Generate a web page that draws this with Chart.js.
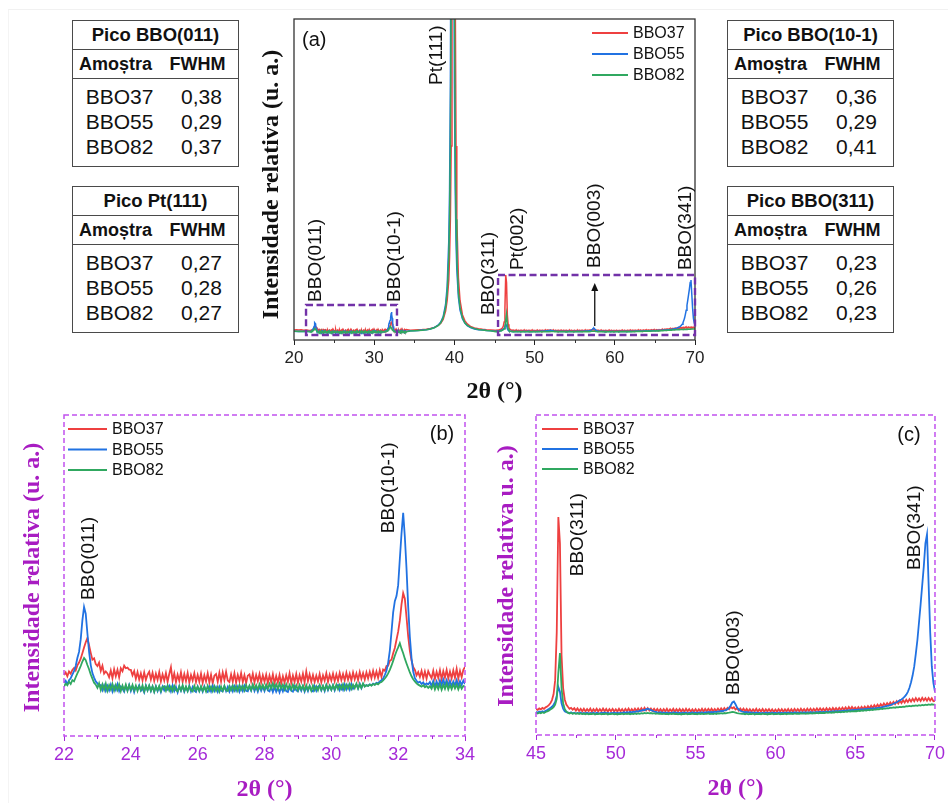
<!DOCTYPE html>
<html>
<head>
<meta charset="utf-8">
<script src="https://cdn.jsdelivr.net/npm/chart.js@4.4.0/dist/chart.umd.min.js"></script>
<style>
    html, body { margin: 0; padding: 0; background: #fff; }
    body { width: 948px; height: 803px; position: relative; overflow: hidden;
           font-family: "Liberation Sans", Arial, sans-serif; color: #111; }
    canvas { position: absolute; }
    .sheet { position: absolute; left: 8px; top: 9px; right: 0; bottom: 0;
             border-top: 1px solid #f1f1f1; border-left: 1px solid #f4f4f4; }
    .fwhm { position: absolute; width: 167px; height: 147px; box-sizing: border-box;
            border: 1.5px solid #4a4a4a; }
    .fwhm .hd { height: 27.5px; line-height: 28px; border-bottom: 1.5px solid #4a4a4a;
                text-align: center; font-weight: bold; font-size: 18.5px; }
    .fwhm .sub { height: 28px; line-height: 29px; border-bottom: 1.5px solid #4a4a4a;
                 font-weight: bold; font-size: 18px; display: flex; }
    .fwhm .sub span:first-child { width: 85px; text-align: center; }
    .fwhm .sub span:last-child { width: 79px; text-align: center; }
    .fwhm .bd { padding-top: 5px; }
    .fwhm .row { height: 25px; line-height: 25px; font-size: 21px; display: flex; }
    .fwhm .row span:first-child { width: 93px; text-align: center; }
    .fwhm .row span:last-child { width: 71px; text-align: center; }
</style>
</head>
<body>
<div class="sheet"></div>
<canvas id="chartA" width="460" height="410" style="left:250px;top:0px"></canvas>
<canvas id="chartB" width="480" height="403" style="left:0px;top:400px"></canvas>
<canvas id="chartC" width="468" height="403" style="left:480px;top:400px"></canvas>

<script>
// ---------------------------------------------------------
// SAMPLES + FWHM TABLES
// ---------------------------------------------------------
const samples = ['BBO37', 'BBO55', 'BBO82'];
const fwhmBBO011 = [0.38, 0.29, 0.37];
const fwhmPt111 = [0.27, 0.28, 0.27];
const fwhmBBO101 = [0.36, 0.29, 0.41];
const fwhmBBO311 = [0.23, 0.26, 0.23];

// ---------------------------------------------------------
// DIFFRACTOGRAMS (relative intensity)
// ---------------------------------------------------------
// 20 - 22 deg, coarse
const theta0 = [20.0, 20.3, 20.6, 20.9, 21.2, 21.5, 21.8];
const bbo37Low = [20.5, 21.2, 20.1, 20.8, 19.7, 20.4, 19.5];
const bbo55Low = [17.0, 16.2, 17.1, 16.5, 16.9, 16.3, 16.8];
const bbo82Low = [16.6, 17.2, 16.4, 17.0, 16.2, 16.8, 16.0];

// 22 - 34 deg, step 0.05
const bbo37B = [
    19.0,19.8,18.6,20.1,19.4,20.6,21.2,20.4,22.0,22.9,24.1,25.8,27.6,29.2,30.5,28.3,25.9,23.8,24.2,22.4,
    21.8,22.9,20.3,21.9,19.4,20.1,19.5,18.3,20.4,18.0,20.8,18.6,20.6,18.3,21.1,20.2,21.9,21.1,21.3,20.7,
    20.6,18.9,20.2,17.8,19.9,17.6,19.5,17.3,19.8,17.5,19.1,20.0,17.6,19.7,17.2,19.4,17.5,19.9,17.0,19.2,
    17.3,19.6,16.9,19.3,21.4,17.2,19.5,16.8,19.1,17.2,19.8,16.9,19.3,17.1,19.6,16.7,19.0,17.3,19.5,16.8,
    19.0,16.9,19.4,16.6,18.9,17.0,19.5,16.7,19.1,16.4,18.8,19.3,16.9,19.7,17.0,19.8,17.4,20.0,17.3,16.8,
    19.2,16.9,19.5,16.6,19.0,17.1,19.6,16.8,18.9,16.5,18.8,19.2,17.0,19.4,16.7,19.0,17.1,19.3,16.6,18.9,
    16.9,19.1,16.5,18.8,16.8,19.2,16.4,18.7,16.7,19.0,16.3,18.6,16.6,18.9,16.9,19.5,16.5,18.8,16.8,19.3,
    16.6,18.9,17.0,19.4,16.7,20.1,17.1,19.2,16.9,19.0,16.8,18.8,17.0,19.3,16.7,18.9,17.2,19.5,16.9,19.1,
    17.3,19.4,17.1,19.2,17.2,19.6,17.4,19.3,17.3,19.7,17.5,19.4,17.3,19.8,17.7,19.5,17.4,19.9,17.8,19.6,
    17.6,19.8,17.9,20.0,18.0,20.3,18.2,20.1,18.1,20.5,18.4,20.7,20.3,21.8,21.9,23.4,23.8,25.8,27.4,30.0,
    32.5,36.0,41.0,44.5,42.8,37.0,31.0,26.5,23.5,21.5,20.6,18.9,19.9,18.4,20.3,18.0,20.1,17.9,20.2,19.0,
    18.0,20.3,17.8,20.0,18.1,20.5,17.7,20.2,18.2,20.6,17.9,20.1,18.0,20.4,18.1,20.9,17.9,20.3,18.3,20.6,
    21.5
];
const bbo55B = [
    16.5,17.2,16.1,17.4,18.0,19.1,20.2,21.8,24.3,26.2,30.1,36.0,40.2,38.1,32.0,26.3,22.1,19.6,18.2,17.0,
    16.4,15.6,15.9,14.3,15.8,14.1,15.6,14.2,16.0,13.9,15.5,14.3,16.1,14.0,15.4,14.7,13.8,15.6,14.2,15.9,
    14.0,15.5,13.7,15.4,14.6,15.8,14.1,14.8,13.6,15.7,14.2,15.6,14.0,15.4,13.8,15.5,14.0,15.3,13.7,15.4,
    14.2,15.3,14.5,15.6,13.9,15.7,14.0,15.3,13.6,15.4,14.1,15.5,13.8,15.2,14.0,15.6,13.9,15.3,14.1,13.7,
    15.4,14.0,15.2,13.8,15.5,14.1,13.7,15.3,13.9,15.6,14.0,15.2,13.8,15.4,14.1,13.9,15.5,14.0,15.3,13.8,
    15.2,13.9,15.5,14.1,15.4,13.8,15.3,14.0,15.6,14.1,13.9,15.4,14.2,15.7,14.0,15.3,13.8,15.5,14.1,15.4,
    14.0,15.6,14.2,13.9,15.4,13.7,15.3,13.8,15.1,13.6,15.2,13.9,15.4,14.0,13.7,15.3,14.1,13.8,15.4,14.2,
    13.9,15.4,14.1,15.5,13.8,15.3,14.0,15.6,14.2,13.9,15.5,14.1,15.4,15.7,14.2,15.5,14.0,15.8,14.3,15.6,
    14.4,15.8,14.2,15.6,15.9,14.3,15.7,14.4,16.0,14.5,15.8,14.4,16.1,14.7,15.5,16.0,14.8,16.3,14.9,16.2,
    15.5,15.9,15.6,16.1,15.8,16.3,16.0,16.6,16.4,17.0,17.4,17.9,19.0,20.3,22.8,26.6,32.4,38.5,42.0,43.6,
    47.0,55.2,63.1,69.5,62.0,52.1,40.3,30.8,24.2,20.1,18.0,17.2,16.6,16.9,16.2,16.7,15.9,16.4,16.1,16.8,
    15.6,17.2,15.3,17.0,15.5,17.3,15.8,17.6,15.9,17.4,15.7,17.2,15.5,17.0,15.8,17.4,15.6,17.1,15.9,17.3,
    16.2
];
const bbo82B = [
    15.4,16.3,15.8,16.9,16.2,17.4,17.0,18.3,19.5,20.6,21.8,23.2,24.3,23.6,22.1,20.8,19.2,17.9,16.6,16.0,
    15.0,16.4,14.3,16.1,14.4,16.3,14.1,15.8,14.5,16.2,14.2,15.9,14.4,16.1,14.0,15.7,14.3,16.0,14.1,15.8,
    14.4,15.9,14.2,15.7,14.0,15.5,14.3,15.8,13.9,15.6,14.2,15.7,14.1,15.5,13.8,15.4,14.2,15.6,14.0,15.3,
    15.5,14.1,15.7,14.2,15.4,14.0,15.6,14.3,13.9,15.5,14.2,15.8,14.1,15.4,14.0,15.5,14.3,13.9,15.6,14.2,
    15.4,14.0,15.5,14.1,15.3,13.9,15.6,14.2,15.4,14.0,15.5,14.1,15.3,13.8,15.4,14.1,15.6,14.2,14.0,15.5,
    14.3,15.7,14.2,15.5,14.1,15.8,14.4,15.6,14.2,15.9,14.5,15.7,14.3,16.0,14.6,15.8,14.4,16.1,14.7,15.9,
    14.5,16.0,14.7,16.2,14.8,16.4,14.9,16.1,14.6,16.3,14.8,16.0,14.5,16.1,14.7,15.9,14.4,16.0,14.6,15.8,
    14.3,15.9,14.5,15.7,14.2,15.8,14.4,15.6,14.1,15.7,14.3,15.5,14.2,15.8,14.4,15.6,14.3,15.9,14.5,15.7,
    14.4,15.8,14.5,16.0,14.6,15.9,14.7,16.1,14.5,16.0,14.8,16.2,14.7,16.0,14.9,16.3,14.8,16.1,15.0,16.4,
    15.4,15.8,15.6,16.0,15.7,16.2,15.9,16.4,16.1,16.6,16.8,17.3,17.9,18.6,19.5,20.6,21.9,23.4,25.0,26.4,
    27.6,28.9,27.2,25.8,24.1,22.6,21.2,19.8,18.6,17.7,17.0,16.4,16.0,15.7,15.4,15.8,15.2,15.6,15.0,15.5,
    14.7,16.2,14.5,15.9,14.6,16.1,14.4,16.0,14.7,16.3,14.5,15.9,14.6,16.1,14.8,16.0,14.5,15.9,14.7,15.6,
    15.3
];

// Pt(111) region, 34.5 - 44.5 deg
const thetaPt = [34.5, 35, 35.5, 36, 36.5, 37, 37.5, 38, 38.3, 38.6, 38.9, 39.1, 39.3, 39.4, 39.5, 39.6,
    39.7, 39.75, 39.8, 39.85, 39.9, 40, 40.1, 40.2, 40.3, 40.5, 40.7, 41, 41.3, 41.6, 42, 42.5, 43, 43.5, 44, 44.5];
const bbo37Pt = [19.7, 20.2, 20.8, 21.6, 22.7, 24.5, 27.5, 33, 39, 49, 72, 101, 157, 222, 325, 523,
    958, 1363, 1958, 2658, 3018, 1958, 958, 523, 325, 163, 101, 62, 46, 37, 30, 26, 23.6, 22.2, 21.2, 20.5];
const bbo55Pt = [18, 18.4, 19, 20, 21, 23, 27, 34, 42, 57, 90, 140, 264, 405, 693, 1361,
    2656, 3016, 2656, 1956, 1361, 693, 405, 264, 186, 110, 75, 51, 39, 32, 27, 23, 21, 20, 19, 18.4];
const bbo82Pt = [17.8, 18.4, 19, 19.8, 21, 23, 26.5, 33, 40, 54, 82, 123, 220, 323, 521, 956,
    1956, 2656, 3016, 2656, 1956, 956, 521, 323, 220, 123, 82, 54, 40, 33, 28, 24, 21.5, 20, 19, 18.4];

// 45 - 70 deg, step 0.1
const bbo37C = [
    19.5,18.8,19.9,19.2,20.3,19.6,20.8,21.4,22.6,24.0,
    26.5,31.0,42.0,80.0,170.6,150.0,62.0,36.0,27.0,23.0,
    21.2,19.6,20.4,18.9,20.1,18.2,19.9,17.9,19.6,17.7,
    19.7,17.6,19.5,17.8,19.8,17.4,19.4,17.7,19.7,17.5,
    19.4,17.6,19.8,17.7,19.5,17.3,19.4,17.7,19.6,17.5,
    19.3,17.5,19.7,17.6,19.4,17.4,19.6,17.8,19.8,17.5,
    19.4,17.7,19.7,17.9,19.9,18.0,20.1,18.2,20.4,18.4,
    20.2,18.3,19.9,18.0,19.6,17.7,19.5,17.6,19.4,17.5,
    19.4,17.6,19.7,17.4,19.3,17.7,19.6,17.3,19.4,17.6,
    19.5,17.5,19.3,17.4,19.6,17.6,19.4,17.3,19.2,17.5,
    19.4,17.4,19.3,17.6,19.7,17.5,19.5,17.7,19.6,17.8,
    19.7,17.7,19.5,17.9,19.8,18.0,20.0,18.2,20.2,18.5,
    20.4,19.3,21.1,20.0,20.9,19.1,20.0,18.3,19.8,18.0,
    19.7,17.7,19.5,17.5,19.4,17.4,19.3,17.6,19.6,17.4,
    19.2,17.5,19.5,17.3,19.3,17.6,19.4,17.4,19.2,17.2,
    19.1,17.4,19.4,17.5,19.3,17.3,19.2,17.6,19.5,17.4,
    19.3,17.5,19.6,17.7,19.4,17.6,19.7,17.8,19.5,17.7,
    19.7,17.9,19.8,17.8,19.6,18.0,19.9,18.1,20.0,18.2,
    19.8,18.0,20.1,18.3,20.0,18.2,20.3,18.4,20.2,18.5,
    20.4,18.6,20.6,18.8,20.7,18.9,21.0,19.1,21.1,19.3,
    20.7,19.0,20.9,19.2,21.1,19.4,21.4,19.7,21.7,20.0,
    22.1,20.3,22.5,20.8,22.9,21.2,23.3,21.6,23.8,22.1,
    24.2,22.5,24.7,23.0,25.1,23.4,25.6,23.8,26.0,24.2,
    26.4,24.5,26.8,24.9,27.2,25.3,27.6,25.6,28.1,25.9,
    27.8,25.8,28.3,26.2,28.0,26.0,28.2,26.1,27.9,25.7,
    26.0
];
const bbo55C = [
    17.2,16.6,17.5,16.9,17.7,17.1,18.0,18.6,19.4,20.3,
    21.2,22.8,25.0,30.0,36.8,33.0,24.0,19.8,17.6,16.9,
    16.6,16.2,16.8,16.0,16.5,15.9,16.4,16.1,16.7,15.8,
    16.3,16.0,16.6,15.9,16.4,16.1,16.7,15.8,16.5,16.2,
    16.0,16.6,16.2,16.8,16.1,16.5,15.9,16.4,16.2,16.7,
    16.1,16.5,16.0,16.6,16.3,16.9,16.4,17.0,16.6,17.2,
    16.9,17.4,17.1,17.8,17.5,18.2,18.0,18.7,18.5,19.2,
    19.7,19.3,18.6,18.1,17.5,17.2,16.8,16.6,16.9,16.4,
    16.7,16.3,16.8,16.1,16.6,16.2,16.9,16.4,16.7,16.2,
    16.6,16.1,16.8,16.3,16.7,16.0,16.5,16.2,16.9,16.3,
    16.7,16.2,16.8,16.4,16.9,16.3,17.0,16.6,17.1,16.8,
    17.2,16.9,17.4,17.1,17.6,17.4,17.9,17.7,18.3,18.6,
    19.2,20.4,22.3,24.6,25.4,23.2,20.6,19.0,18.1,17.5,
    17.2,16.8,17.1,16.6,16.9,16.4,16.8,16.3,16.7,16.2,
    16.6,16.1,16.5,16.0,16.7,16.2,16.6,16.1,16.8,16.3,
    16.5,16.0,16.7,16.2,16.6,16.1,16.8,16.3,16.7,16.2,
    16.7,16.3,16.9,16.4,16.8,16.2,17.0,16.5,16.9,16.4,
    16.9,16.5,17.1,16.7,17.0,16.6,17.2,16.8,17.3,16.9,
    17.3,16.9,17.5,17.1,17.6,17.2,17.8,17.4,17.9,17.6,
    18.0,17.7,18.2,17.9,18.4,18.1,18.6,18.3,18.8,18.5,
    18.9,18.6,19.1,18.8,19.3,19.0,19.5,19.3,19.7,19.5,
    19.9,19.7,20.1,20.0,20.4,20.3,20.8,20.9,21.3,21.6,
    21.9,22.2,22.6,23.0,23.6,24.2,24.8,25.5,26.3,27.0,
    28.0,29.3,30.8,33.0,36.2,40.5,46.0,53.0,63.0,74.0,
    88.0,102.0,117.0,132.0,150.0,157.0,118.0,80.0,53.0,40.0,
    33.0
];
const bbo82C = [
    16.4,15.9,16.6,16.1,16.9,16.3,17.1,17.6,18.2,19.0,
    19.8,21.0,23.0,27.5,48.0,63.5,36.0,24.0,19.5,17.6,
    16.6,16.0,16.4,15.8,16.2,15.7,16.1,15.6,16.0,15.5,
    15.9,15.4,15.8,15.3,15.7,15.5,15.9,15.2,15.6,15.4,
    15.8,15.3,15.7,15.4,15.9,15.2,15.6,15.5,15.8,15.3,
    15.7,15.2,15.6,15.4,15.9,15.3,15.8,15.5,15.9,15.4,
    15.8,15.5,16.0,15.6,16.1,15.7,16.2,15.8,16.3,16.0,
    16.4,16.1,16.3,15.9,16.2,15.7,16.0,15.6,15.9,15.5,
    15.8,15.4,15.7,15.3,15.8,15.5,15.9,15.4,15.7,15.3,
    15.6,15.2,15.7,15.4,15.8,15.3,15.6,15.5,15.9,15.4,
    15.7,15.3,15.8,15.5,15.9,15.4,15.7,15.6,16.0,15.5,
    15.8,15.5,16.0,15.6,16.1,15.8,16.2,15.9,16.3,16.0,
    16.4,16.6,16.9,17.2,17.0,16.7,16.3,16.0,15.8,15.6,
    15.9,15.4,15.8,15.3,15.7,15.5,15.9,15.2,15.6,15.4,
    15.7,15.3,15.8,15.4,15.6,15.2,15.7,15.5,15.9,15.3,
    15.6,15.4,15.8,15.3,15.7,15.5,15.9,15.4,15.8,15.6,
    15.9,15.5,16.0,15.6,15.9,15.7,16.1,15.8,16.0,15.7,
    16.1,15.8,16.2,15.9,16.3,16.0,16.4,16.1,16.5,16.2,
    16.5,16.2,16.7,16.4,16.8,16.5,16.9,16.7,17.1,16.8,
    17.2,16.9,17.3,17.1,17.5,17.2,17.7,17.4,17.8,17.6,
    17.9,17.7,18.1,17.9,18.3,18.1,18.5,18.3,18.7,18.5,
    18.9,18.7,19.1,19.0,19.4,19.2,19.7,19.5,20.0,19.8,
    20.2,20.0,20.5,20.3,20.7,20.5,21.0,20.8,21.2,21.0,
    21.4,21.2,21.7,21.5,21.9,21.6,22.1,21.9,22.3,22.0,
    22.5,22.2,22.7,22.4,22.9,22.6,23.1,22.8,23.2,22.9,
    23.0
];

// ---------------------------------------------------------
// HELPERS
// ---------------------------------------------------------
const COLORS = { red: '#EE4040', blue: '#2172E2', green: '#30A860' };
const PURPLE_FRAME = '#C152EE';
const PURPLE_TICK = '#A52AD8';
const PURPLE_TITLE = '#A81CC2';
const SANS = '"Liberation Sans", Arial, sans-serif';
const SERIF = '"Liberation Serif", "Times New Roman", serif';

// measurement grid of a scan: start angle + fixed step
const scanGrid = (start, step, n) => Array.from({ length: n }, (_, i) => +(start + i * step).toFixed(2));
const thetaB = scanGrid(22, 0.05, bbo37B.length);
const thetaC = scanGrid(45, 0.1, bbo37C.length);

const toPoints = (xs, ys) => xs.map((x, i) => ({ x: x, y: ys[i] }));

function makeDatasets(parts, width) {
    // parts: [[theta, bbo37, bbo55, bbo82], ...]
    const build = k => parts.flatMap(p => toPoints(p[0], p[k]));
    return [
        { label: 'BBO37', data: build(1), borderColor: COLORS.red, borderWidth: width, order: 3 },
        { label: 'BBO55', data: build(2), borderColor: COLORS.blue, borderWidth: width, order: 2 },
        { label: 'BBO82', data: build(3), borderColor: COLORS.green, borderWidth: width, order: 1 }
    ];
}

const fmt = v => v.toFixed(2).replace('.', ',');

function buildTable(left, top, title, values) {
    const t = document.createElement('div');
    t.className = 'fwhm';
    t.style.left = left + 'px';
    t.style.top = top + 'px';
    let html = '<div class="hd">' + title + '</div>' +
        '<div class="sub"><span>Amoștra</span><span>FWHM</span></div><div class="bd">';
    samples.forEach((s, i) => {
        html += '<div class="row"><span>' + s + '</span><span>' + fmt(values[i]) + '</span></div>';
    });
    t.innerHTML = html + '</div>';
    document.body.appendChild(t);
}

buildTable(72, 20, 'Pico BBO(011)', fwhmBBO011);
buildTable(72, 186, 'Pico Pt(111)', fwhmPt111);
buildTable(727, 20, 'Pico BBO(10-1)', fwhmBBO101);
buildTable(727, 186, 'Pico BBO(311)', fwhmBBO311);

// ---------------------------------------------------------
// PANEL DECORATION (frame, minor ticks, labels, legend, titles)
// ---------------------------------------------------------
function panelDecor(cfg) {
    return {
        id: 'panelDecor',
        afterDatasetsDraw(chart) {
            const { ctx, chartArea: a, scales: { x, y } } = chart;
            const line = (x0, y0, x1, y1) => { ctx.beginPath(); ctx.moveTo(x0, y0); ctx.lineTo(x1, y1); ctx.stroke(); };
            ctx.save();

            // frame
            ctx.strokeStyle = cfg.frameColor;
            ctx.lineWidth = cfg.frameWidth;
            ctx.setLineDash(cfg.frameDash);
            ctx.strokeRect(a.left, a.top, a.right - a.left, a.bottom - a.top);
            ctx.setLineDash([]);

            // minor ticks
            ctx.strokeStyle = cfg.tickColor;
            ctx.lineWidth = 1;
            cfg.minor.forEach(v => {
                const px = Math.round(x.getPixelForValue(v)) + 0.5;
                line(px, a.bottom, px, a.bottom + 3);
            });

            // zoomed regions
            (cfg.boxes || []).forEach(b => {
                ctx.strokeStyle = '#7232A8';
                ctx.lineWidth = 2.4;
                ctx.setLineDash([7, 3.5]);
                const x0 = x.getPixelForValue(b.x0), x1 = x.getPixelForValue(b.x1);
                const y0 = y.getPixelForValue(b.y0), y1 = y.getPixelForValue(b.y1);
                ctx.strokeRect(x0, y1, x1 - x0, y0 - y1);
                ctx.setLineDash([]);
            });

            // arrow
            if (cfg.arrow) {
                const px = x.getPixelForValue(cfg.arrow.x);
                const yb = y.getPixelForValue(cfg.arrow.y0), yt = y.getPixelForValue(cfg.arrow.y1);
                ctx.strokeStyle = '#111';
                ctx.fillStyle = '#111';
                ctx.lineWidth = 1.3;
                line(px, yb, px, yt + 6);
                ctx.beginPath();
                ctx.moveTo(px, yt);
                ctx.lineTo(px - 3.5, yt + 8);
                ctx.lineTo(px + 3.5, yt + 8);
                ctx.closePath();
                ctx.fill();
            }

            // peak labels (vertical)
            ctx.fillStyle = '#111';
            ctx.font = cfg.peakFont + 'px ' + SANS;
            ctx.textAlign = 'left';
            ctx.textBaseline = 'middle';
            cfg.peaks.forEach(p => {
                ctx.save();
                ctx.translate(x.getPixelForValue(p.x), y.getPixelForValue(p.y));
                ctx.rotate(-Math.PI / 2);
                ctx.fillText(p.text, 0, 0);
                ctx.restore();
            });

            // panel tag
            ctx.font = '20px ' + SANS;
            ctx.textAlign = cfg.tag.align;
            const tx = cfg.tag.align === 'left' ? a.left + cfg.tag.dx : a.right - cfg.tag.dx;
            ctx.fillText(cfg.tag.text, tx, a.top + cfg.tag.dy);

            // legend
            const L = cfg.legend;
            const lx = L.fromRight ? a.right - L.x : a.left + L.x;
            chart.data.datasets.forEach((ds, i) => {
                const yy = a.top + L.top + i * L.gap;
                ctx.strokeStyle = ds.borderColor;
                ctx.lineWidth = 2;
                line(lx, yy, lx + L.len, yy);
                ctx.fillStyle = '#111';
                ctx.font = '16px ' + SANS;
                ctx.textAlign = 'left';
                ctx.fillText(ds.label, lx + L.len + 5, yy + 1);
            });

            // axis titles
            ctx.fillStyle = cfg.titleColor;
            ctx.font = 'bold 24px ' + SERIF;
            ctx.textAlign = 'center';
            ctx.textBaseline = 'middle';
            ctx.fillText('2θ (°)', (a.left + a.right) / 2, a.bottom + cfg.xTitleDy);
            ctx.save();
            ctx.translate(a.left - cfg.yTitleDx, (a.top + a.bottom) / 2 + cfg.yTitleDy);
            ctx.rotate(-Math.PI / 2);
            ctx.fillText(cfg.yTitle, 0, 0);
            ctx.restore();

            ctx.restore();
        }
    };
}

function makeChart(id, datasets, xr, yr, layout, tickColor, tickSize, decor) {
    return new Chart(document.getElementById(id), {
        type: 'line',
        data: { datasets: datasets },
        options: {
            responsive: false,
            devicePixelRatio: 1,
            animation: false,
            events: [],
            layout: { padding: layout.padding },
            elements: { point: { radius: 0 }, line: { tension: 0 } },
            plugins: { legend: { display: false }, tooltip: { enabled: false } },
            scales: {
                x: {
                    type: 'linear',
                    min: xr.min,
                    max: xr.max,
                    afterFit: s => { s.height = layout.xHeight; },
                    border: { display: false },
                    grid: { display: true, drawOnChartArea: false, drawTicks: true, tickLength: 5, color: tickColor },
                    ticks: { stepSize: xr.step, padding: 3, color: tickColor, font: { size: tickSize, family: SANS } }
                },
                y: { type: 'linear', min: yr.min, max: yr.max, display: false }
            }
        },
        plugins: [panelDecor(decor)]
    });
}

// ---------------------------------------------------------
// (a) full scan
// ---------------------------------------------------------
makeChart('chartA',
    makeDatasets([
        [theta0, bbo37Low, bbo55Low, bbo82Low],
        [thetaB, bbo37B, bbo55B, bbo82B],
        [thetaPt, bbo37Pt, bbo55Pt, bbo82Pt],
        [thetaC, bbo37C, bbo55C, bbo82C]
    ], 1.5),
    { min: 20, max: 70, step: 10 },
    { min: -7, max: 870 },
    { padding: { left: 44, right: 15, top: 19, bottom: 0 }, xHeight: 70 },
    '#222', 17,
    {
        frameColor: '#333', frameWidth: 1.3, frameDash: [], tickColor: '#333',
        minor: [25, 35, 45, 55, 65],
        boxes: [{ x0: 21.5, x1: 32.84, y0: 6.7, y1: 88.6 }, { x0: 45.44, x1: 70, y0: 6.7, y1: 170.6 }],
        arrow: { x: 57.5, y0: 31, y1: 149 },
        peakFont: 19,
        peaks: [
            { text: 'BBO(011)', x: 22.74, y: 97 },
            { text: 'BBO(10-1)', x: 32.6, y: 97 },
            { text: 'Pt(111)', x: 37.83, y: 690 },
            { text: 'BBO(311)', x: 44.3, y: 61 },
            { text: 'Pt(002)', x: 47.93, y: 184 },
            { text: 'BBO(003)', x: 57.53, y: 190 },
            { text: 'BBO(341)', x: 68.9, y: 184 }
        ],
        tag: { text: '(a)', align: 'left', dx: 8, dy: 21 },
        legend: { fromRight: true, x: 103, len: 36, top: 14, gap: 21 },
        titleColor: '#111', yTitle: 'Intensidade relativa (u. a.)',
        xTitleDy: 52, yTitleDx: 22, yTitleDy: 5
    });

// ---------------------------------------------------------
// (b) 22 - 34 deg
// ---------------------------------------------------------
makeChart('chartB',
    makeDatasets([[thetaB, bbo37B, bbo55B, bbo82B]], 1.8),
    { min: 22, max: 34, step: 2 },
    { min: 0, max: 100 },
    { padding: { left: 64, right: 15, top: 15, bottom: 0 }, xHeight: 67 },
    PURPLE_TICK, 18,
    {
        frameColor: PURPLE_FRAME, frameWidth: 1.5, frameDash: [5, 3], tickColor: PURPLE_TICK,
        minor: [23, 25, 27, 29, 31, 33],
        peakFont: 19,
        peaks: [
            { text: 'BBO(011)', x: 22.73, y: 42.4 },
            { text: 'BBO(10-1)', x: 31.71, y: 63.2 }
        ],
        tag: { text: '(b)', align: 'center', dx: 23, dy: 19 },
        legend: { fromRight: false, x: 4, len: 39, top: 14, gap: 20.5 },
        titleColor: PURPLE_TITLE, yTitle: 'Intensidade relativa (u. a.)',
        xTitleDy: 54, yTitleDx: 31, yTitleDy: 2
    });

// ---------------------------------------------------------
// (c) 45 - 70 deg
// ---------------------------------------------------------
makeChart('chartC',
    makeDatasets([[thetaC, bbo37C, bbo55C, bbo82C]], 1.8),
    { min: 45, max: 70, step: 5 },
    { min: -1, max: 251 },
    { padding: { left: 56, right: 11, top: 15, bottom: 0 }, xHeight: 68 },
    PURPLE_TICK, 18,
    {
        frameColor: PURPLE_FRAME, frameWidth: 1.5, frameDash: [5, 3], tickColor: PURPLE_TICK,
        minor: [47.5, 52.5, 57.5, 62.5, 67.5],
        peakFont: 19,
        peaks: [
            { text: 'BBO(311)', x: 47.59, y: 124 },
            { text: 'BBO(003)', x: 57.41, y: 30.5 },
            { text: 'BBO(341)', x: 68.75, y: 129 }
        ],
        tag: { text: '(c)', align: 'center', dx: 26, dy: 20 },
        legend: { fromRight: false, x: 6, len: 36, top: 14, gap: 20 },
        titleColor: PURPLE_TITLE, yTitle: 'Intensidade relativa u. a.)',
        xTitleDy: 54, yTitleDx: 29, yTitleDy: 1
    });
</script>
</body>
</html>
